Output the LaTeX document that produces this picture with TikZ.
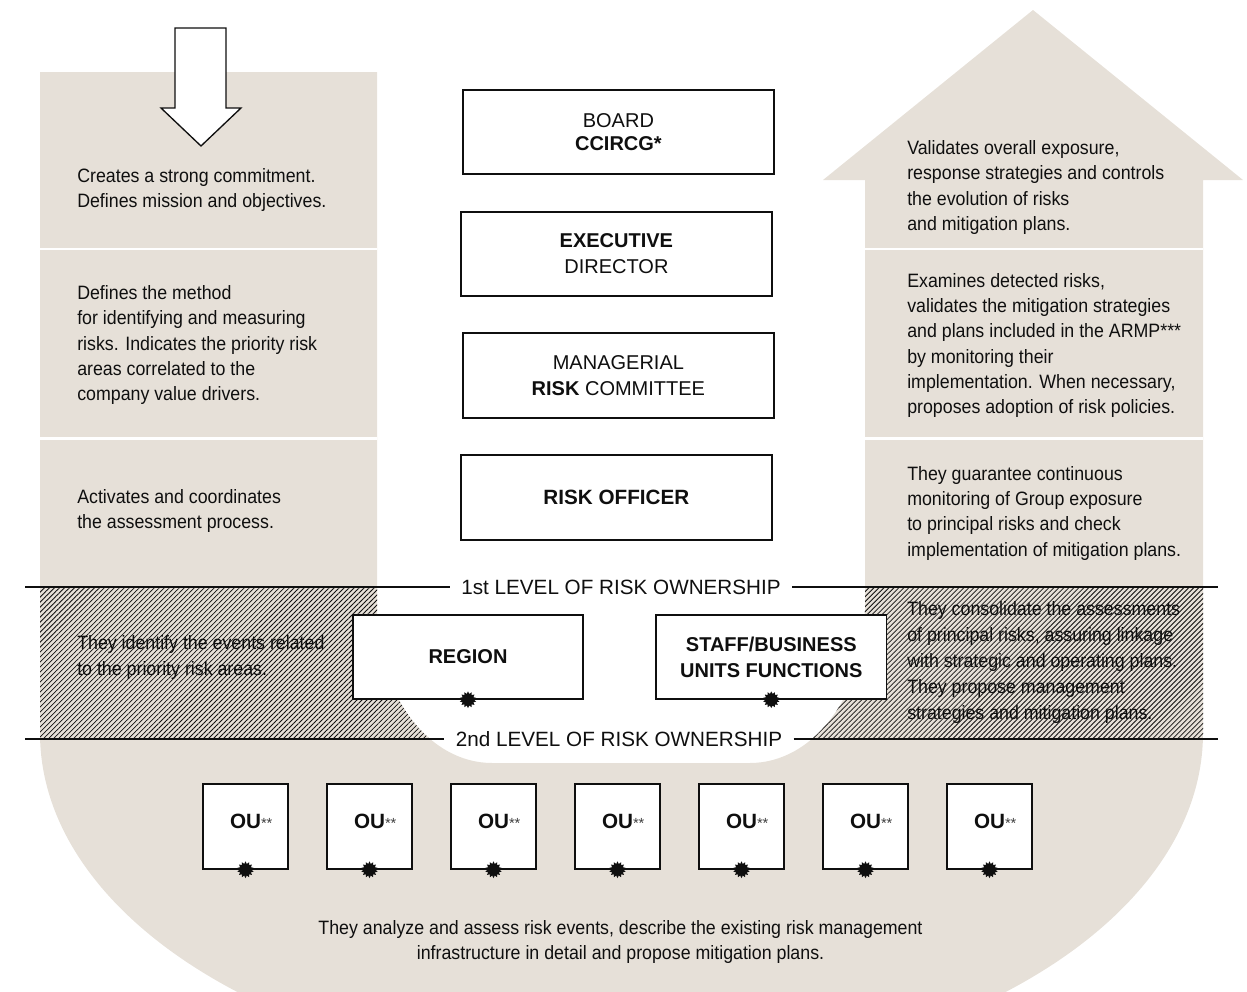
\documentclass[tikz,border=0pt]{standalone}
\usepackage{fontspec}
\setmainfont{Liberation Sans}
\newfontfamily\condf[FakeStretch=0.92]{Liberation Sans}
\usetikzlibrary{shapes.geometric,patterns.meta}
\definecolor{beige}{RGB}{230,224,216}
\definecolor{ink}{RGB}{15,15,15}
\begin{document}
\begin{tikzpicture}[x=0.75pt,y=-0.75pt,
  box/.style={draw=ink, line width=1.1pt, fill=white, inner sep=0pt, align=center, text=ink, font=\fontsize{15}{19.5}\selectfont},
  desc/.style={inner sep=0pt, align=left, text=ink, font=\condf\fontsize{14.5}{19}\selectfont, anchor=base west},
  lvl/.style={inner xsep=8.5pt, inner ysep=0pt, text=ink, font=\fontsize{15.5}{18}\selectfont},
  lvlline/.style={draw=ink, line width=0.9pt},
  burst/.style={star, star points=14, star point ratio=1.4, fill=ink, inner sep=0pt, minimum size=12.5pt},
  oubox/.style={draw=ink, line width=1.1pt, fill=white, minimum width=63.75pt, minimum height=63.75pt, inner sep=0pt},
  outext/.style={inner sep=0pt, text=ink, font=\fontsize{15.5}{18}\selectfont},
]
\useasboundingbox (0,0) rectangle (1247,992);
\def\outerpath{(40,72) -- (377,72) -- (377,610) .. controls (377,694.5) and (428.5,763) .. (492,763) -- (750,763) .. controls (813.5,763) and (865,694.5) .. (865,610) -- (865,180) -- (823,180) -- (1033,10) -- (1243,180) -- (1203,180) -- (1203,733) .. controls (1203,923.5) and (942.6,1078) .. (621.5,1078) .. controls (300.4,1078) and (40,923.5) .. (40,733) -- cycle}
\begin{scope}
  \clip (0,0) rectangle (1247,992);
  \fill[beige] \outerpath;
  \begin{scope}
    \clip \outerpath;
    \fill[pattern={Lines[angle=45,distance=2.65pt,line width=0.6pt]}, pattern color=ink] (0,587) rectangle (1247,739);
  \end{scope}
\end{scope}
% white separators
\draw[white, line width=1.6pt] (40,249) -- (377,249) (865,249) -- (1203,249)
  (40,438.5) -- (377,438.5) (865,438.5) -- (1203,438.5);
% down arrow
\draw[ink, line width=1pt, fill=white, line join=miter] (175,28) -- (226,28) -- (226,108) -- (241,108) -- (201,146) -- (161,108) -- (175,108) -- cycle;
% level lines
\coordinate (a1) at (25,587); \coordinate (b1) at (1218,587);
\coordinate (a2) at (25,739); \coordinate (b2) at (1218,739);
\node[lvl] (lv1) at (621,587) {1st LEVEL OF RISK OWNERSHIP};
\node[lvl] (lv2) at (619,739) {2nd LEVEL OF RISK OWNERSHIP};
\draw[lvlline] (a1) -- (lv1.west) (lv1.east) -- (b1);
\draw[lvlline] (a2) -- (lv2.west) (lv2.east) -- (b2);
% central boxes
\node[box, minimum width=233.25pt, minimum height=63pt, font=\fontsize{15}{17.25}\selectfont] (board) at (618.4,132.2) {BOARD\\\textbf{CCIRCG*}};
\node[box, minimum width=233.25pt, minimum height=63pt] (exec) at (616.4,254) {\textbf{EXECUTIVE}\\DIRECTOR};
\node[box, minimum width=233.25pt, minimum height=63.5pt] (mrc) at (618.4,375.5) {MANAGERIAL\\\textbf{RISK} COMMITTEE};
\node[box, minimum width=233.25pt, minimum height=63.5pt, font=\fontsize{15.5}{19.5}\selectfont] (ro) at (616.4,497.5) {\textbf{RISK OFFICER}};
\node[box, minimum width=172.5pt, minimum height=63pt] (reg) at (468,657) {\textbf{REGION}};
\node[box, minimum width=173pt, minimum height=63pt] (staff) at (771.3,657) {\textbf{STAFF/BUSINESS}\\\textbf{UNITS FUNCTIONS}};
\node[burst] (sreg) at (reg.south) {};
\node[burst] (sstaff) at (staff.south) {};
% OU boxes
\foreach \i in {0,...,6} {
  \node[oubox] (ou\i) at ({245.5+124*\i},826.5) {};
  \node[outext] (oul\i) at ([yshift=3.75pt]ou\i.center) {\textbf{OU}\rlap{\fontsize{11}{11}\selectfont\color{ink!80}**}};
  \node[burst] (sou\i) at (ou\i.south) {};
}
% texts (anchor = baseline of the last line)
\node[desc] (tl1) at (77,207.5) {Creates a strong commitment.\\Defines mission and objectives.};
\node[desc] (tl2) at (77,400.8) {Defines the method\\for identifying and measuring\\risks. Indicates the priority risk\\areas correlated to the\\company value drivers.};
\node[desc] (tl3) at (77,528.8) {Activates and coordinates\\the assessment process.};
\node[desc, font=\condf\fontsize{14.5}{19.5}\selectfont] (tlh) at (77,675.5) {They identify the events related\\to the priority risk areas.};
\node[desc] (tr1) at (907,230.5) {Validates overall exposure,\\response strategies and controls\\the evolution of risks\\and mitigation plans.};
\node[desc] (tr2) at (907,413.8) {Examines detected risks,\\validates the mitigation strategies\\and plans included in the ARMP***\\by monitoring their\\implementation. When necessary,\\proposes adoption of risk policies.};
\node[desc] (tr3) at (907,556) {They guarantee continuous\\monitoring of Group exposure\\to principal risks and check\\implementation of mitigation plans.};
\node[desc, font=\condf\fontsize{14.5}{19.5}\selectfont] (trh) at (907,719) {They consolidate the assessments\\of principal risks, assuring linkage\\with strategic and operating plans.\\They propose management\\strategies and mitigation plans.};
\node[desc, align=center, anchor=base] (tb) at (620.5,959.5) {They analyze and assess risk events, describe the existing risk management\\infrastructure in detail and propose mitigation plans.};
\end{tikzpicture}
\end{document}
